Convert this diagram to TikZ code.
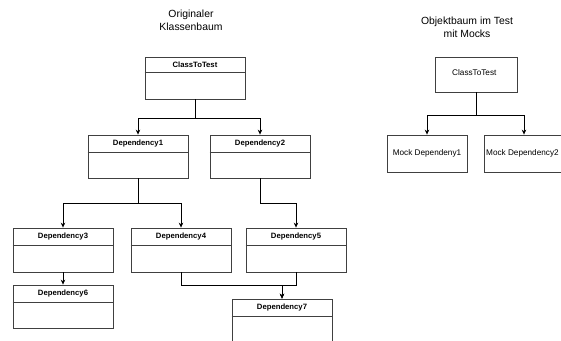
\documentclass[tikz,border=0pt]{standalone}
\usepackage{fontspec}
\setmainfont{Liberation Sans}
\usetikzlibrary{arrows.meta}
\tikzset{
  box/.style={draw=black!75, line width=0.8pt, fill=white, inner sep=0pt, minimum width=100pt},
  divider/.style={draw=black!75, line width=0.8pt},
  hdr/.style={font=\fontsize{7.7}{9}\selectfont\bfseries, inner sep=0pt},
  plain/.style={font=\fontsize{8.2}{10}\selectfont, inner sep=0pt},
  ttl/.style={font=\fontsize{10.4}{13}\selectfont, align=center, inner sep=0pt},
  arr/.style={draw=black, line width=0.7pt, -{Stealth[length=5pt,width=4.5pt]}}
}
\begin{document}
\begin{tikzpicture}[x=1pt,y=-1pt]
\useasboundingbox (0,0) rectangle (561,340);
\clip (0,0) rectangle (561,340);
% titles
\node[ttl] (t1) at (191,20.5) {Originaler\\Klassenbaum};
\node[ttl] (t2) at (467,27) {Objektbaum im Test\\mit Mocks};
% class boxes
\node[box, minimum height=42pt] (ctt) at (195,78) {};
\draw[divider] ([yshift=-16pt]ctt.north west) -- ([yshift=-16pt]ctt.north east);
\node[hdr] (cttl) at ([yshift=-8pt]ctt.north) {ClassToTest};

\node[box, minimum height=43pt] (d1) at (138,156.5) {};
\draw[divider] ([yshift=-18pt]d1.north west) -- ([yshift=-18pt]d1.north east);
\node[hdr] (d1l) at ([yshift=-9pt]d1.north) {Dependency1};

\node[box, minimum height=43pt] (d2) at (260,156.5) {};
\draw[divider] ([yshift=-18pt]d2.north west) -- ([yshift=-18pt]d2.north east);
\node[hdr] (d2l) at ([yshift=-9pt]d2.north) {Dependency2};

\node[box, minimum height=44pt] (d3) at (63,250) {};
\draw[divider] ([yshift=-18pt]d3.north west) -- ([yshift=-18pt]d3.north east);
\node[hdr] (d3l) at ([yshift=-9pt]d3.north) {Dependency3};

\node[box, minimum height=44pt] (d4) at (181,250) {};
\draw[divider] ([yshift=-18pt]d4.north west) -- ([yshift=-18pt]d4.north east);
\node[hdr] (d4l) at ([yshift=-9pt]d4.north) {Dependency4};

\node[box, minimum height=44pt] (d5) at (296,250) {};
\draw[divider] ([yshift=-18pt]d5.north west) -- ([yshift=-18pt]d5.north east);
\node[hdr] (d5l) at ([yshift=-9pt]d5.north) {Dependency5};

\node[box, minimum height=43pt] (d6) at (63,306.5) {};
\draw[divider] ([yshift=-18pt]d6.north west) -- ([yshift=-18pt]d6.north east);
\node[hdr] (d6l) at ([yshift=-9pt]d6.north) {Dependency6};

\node[box, minimum height=45pt] (d7) at (282,321.5) {};
\draw[divider] ([yshift=-18pt]d7.north west) -- ([yshift=-18pt]d7.north east);
\node[hdr] (d7l) at ([yshift=-9pt]d7.north) {Dependency7};

% right tree
\node[box, minimum width=82pt, minimum height=35pt] (rc) at (476,74.5) {};
\begin{scope}
\clip (440,60) rectangle (496.3,88);
\node[plain, anchor=west] (rcl) at (452,73) {ClassToTest};
\end{scope}
\node[box, minimum width=80pt, minimum height=37pt] (m1) at (427,153.5) {};
\node[plain] (m1l) at (427,153) {Mock Dependeny1};
\node[box, minimum width=80pt, minimum height=37pt] (m2) at (524,153.5) {};
\node[plain, anchor=west] (m2l) at (486,153) {Mock Dependency2};

% connectors
\draw[arr] (ctt.south) -- ++(0,19) -| (d1.north);
\draw[arr] (ctt.south) -- ++(0,19) -| (d2.north);
\draw[arr] (d1.south) -- ++(0,25) -| (d3.north);
\draw[arr] (d1.south) -- ++(0,25) -| (d4.north);
\draw[arr] (d2.south) -- ++(0,25) -| (d5.north);
\draw[arr] (d3.south) -- (d6.north);
\draw[arr] (d4.south) -- ++(0,13) -| (d7.north);
\draw[arr] (d5.south) -- ++(0,13) -| (d7.north);
\draw[arr] (rc.south) -- ++(0,23) -| (m1.north);
\draw[arr] (rc.south) -- ++(0,23) -| (m2.north);
\end{tikzpicture}
\end{document}
